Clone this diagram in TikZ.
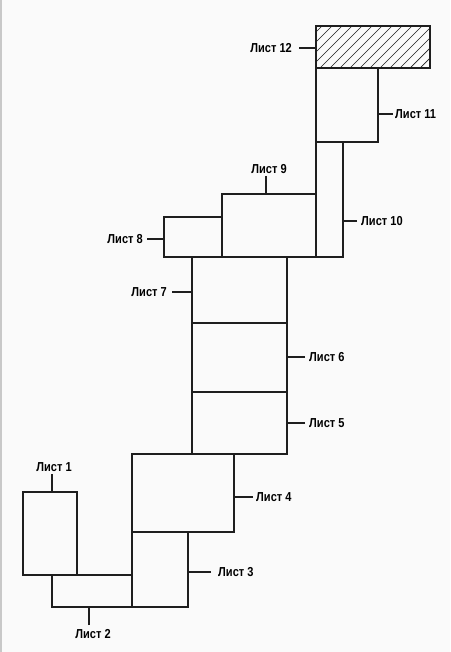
\documentclass[tikz,border=0pt]{standalone}
\usepackage{fontspec}
\setmainfont{Liberation Sans}[FakeStretch=0.85]
\usetikzlibrary{positioning,calc}
\definecolor{sheetline}{RGB}{30,30,30}
\definecolor{paper}{RGB}{250,250,250}
\definecolor{edgegray}{RGB}{200,200,200}

\begin{document}
\begin{tikzpicture}[x=1pt, y=-1pt,
  sheet/.style={draw=sheetline, line width=1.4pt, anchor=north west, inner sep=0pt, outer sep=0pt},
  tag/.style={font=\bfseries\fontsize{13}{13}\selectfont, inner sep=0pt},
  lead/.style={draw=sheetline, line width=1.4pt}
]
  \useasboundingbox[fill=paper] (0,0) rectangle (450,652);
  \draw[edgegray, line width=1.5pt] (0.75,0) -- (0.75,652);

  % sheets: name / left / top / width / height
  \foreach \s/\x/\y/\w/\h in {s1/23/492/54/83, s2/52/575/80/32, s3/132/532/56/75,
      s4/132/454/102/78, s5/192/392/95/62, s6/192/323/95/69, s7/192/257/95/66,
      s8/164/217/58/40, s9/222/194/94/63, s10/316/142/27/115, s11/316/68/62/74,
      s12/316/26/114/42}{
    \node[sheet, minimum width=\w pt, minimum height=\h pt] (\s) at (\x,\y) {};
  }

  % hatching of sheet 12
  \begin{scope}
    \clip (s12.south west) rectangle (s12.north east);
    \foreach \x in {270,280,...,430}{
      \draw[sheetline, line width=0.7pt] (\x,68) -- (\x+42,26);
    }
  \end{scope}
  \node[sheet, minimum width=114pt, minimum height=42pt] at (316,26) {};

  % free ends of the leaders
  \coordinate (e1) at (52,474);
  \coordinate (e2) at (89,625);
  \coordinate (e3) at (211,572);
  \coordinate (e4) at (253,497);
  \coordinate (e5) at (305,423);
  \coordinate (e6) at (305,357);
  \coordinate (e7) at (172,292);
  \coordinate (e8) at (147,239);
  \coordinate (e9) at (266,176);
  \coordinate (e10) at (357,221);
  \coordinate (e11) at (393,114);
  \coordinate (e12) at (299,48);

  \node[tag, above=2.5pt of e1, xshift=2pt] (t1) {Лист 1};
  \node[tag, below=4.5pt of e2, xshift=4pt] (t2) {Лист 2};
  \node[tag, right=7pt of e3] (t3) {Лист 3};
  \node[tag, right=3pt of e4] (t4) {Лист 4};
  \node[tag, right=4pt of e5] (t5) {Лист 5};
  \node[tag, right=4pt of e6] (t6) {Лист 6};
  \node[tag, left=5pt of e7] (t7) {Лист 7};
  \node[tag, left=4pt of e8] (t8) {Лист 8};
  \node[tag, above=2pt of e9, xshift=3pt] (t9) {Лист 9};
  \node[tag, right=4pt of e10] (t10) {Лист 10};
  \node[tag, right=2pt of e11] (t11) {Лист 11};
  \node[tag, left=7pt of e12] (t12) {Лист 12};

  \draw[lead] (e1) -- (e1 |- s1.north);
  \draw[lead] (e2) -- (e2 |- s2.south);
  \draw[lead] (e3) -- (e3 -| s3.east);
  \draw[lead] (e4) -- (e4 -| s4.east);
  \draw[lead] (e5) -- (e5 -| s5.east);
  \draw[lead] (e6) -- (e6 -| s6.east);
  \draw[lead] (e7) -- (e7 -| s7.west);
  \draw[lead] (e8) -- (e8 -| s8.west);
  \draw[lead] (e9) -- (e9 |- s9.north);
  \draw[lead] (e10) -- (e10 -| s10.east);
  \draw[lead] (e11) -- (e11 -| s11.east);
  \draw[lead] (e12) -- (e12 -| s12.west);
\end{tikzpicture}
\end{document}
